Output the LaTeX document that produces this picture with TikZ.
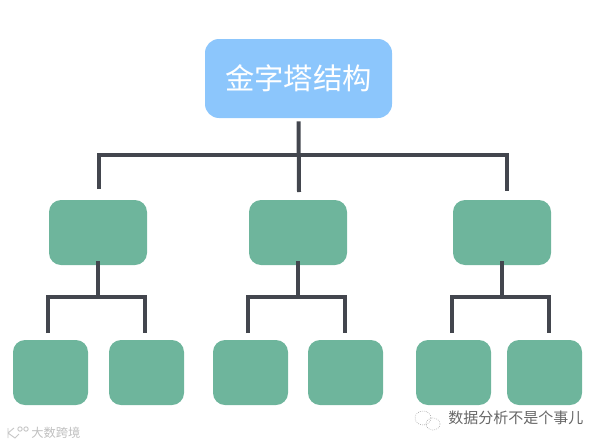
\documentclass[tikz,border=0pt]{standalone}
\usepackage{fontspec}
\newfontfamily\cjk{Noto Sans CJK SC}
\definecolor{topblue}{HTML}{8CC6FC}
\definecolor{boxgreen}{HTML}{6EB59C}
\definecolor{linedark}{HTML}{43464E}
\tikzset{
  x=0.75pt,y=-0.75pt,
  topbox/.style={fill=topblue,draw=none,rounded corners=10.5pt,minimum width=140.25pt,minimum height=59.25pt,inner sep=0pt,text=white,font=\cjk\fontsize{22}{22}\selectfont},
  midbox/.style={fill=boxgreen,draw=none,rounded corners=9pt,minimum width=73.5pt,minimum height=48.75pt,inner sep=0pt},
  leafbox/.style={fill=boxgreen,draw=none,rounded corners=9pt,minimum width=56.25pt,minimum height=48.75pt,inner sep=0pt},
  conn/.style={draw=linedark,line width=3pt,line cap=butt},
  mark1/.style={text=black!25,font=\cjk\fontsize{9.2}{10}\selectfont,inner sep=0pt},
  mark2/.style={text=black!60,font=\cjk\fontsize{11.25}{12}\selectfont,inner sep=0pt},
  icon1/.style={draw=black!22,line width=0.7pt},
  icon2/.style={draw=black!35,line width=0.5pt,densely dotted}
}
\begin{document}
\begin{tikzpicture}
\useasboundingbox (0,0) rectangle (602,446);
\node[topbox] (top) at (298.5,78.5) {金字塔结构};
\node[midbox] (m1) at (98,232.5) {};
\node[midbox] (m2) at (298,232.5) {};
\node[midbox] (m3) at (502,232.5) {};
\node[leafbox] (l1) at (50.5,372.5) {};
\node[leafbox] (l2) at (146.5,372.5) {};
\node[leafbox] (l3) at (250.5,372.5) {};
\node[leafbox] (l4) at (345.5,372.5) {};
\node[leafbox] (l5) at (453.5,372.5) {};
\node[leafbox] (l6) at (544.5,372.5) {};
\draw[conn] ([yshift=-2.25pt]top.south) -- (299,192);
\draw[conn] (98.5,189) -- (98.5,155) -- (507,155) -- (507,191);
\draw[conn] ([yshift=3pt]m1.south) -- (98,297);
\draw[conn] (48,333) -- (48,297) -- (145,297) -- (145,333);
\draw[conn] ([yshift=3pt]m2.south) -- (298,297);
\draw[conn] (248,333) -- (248,297) -- (345,297) -- (345,333);
\draw[conn] ([yshift=3pt]m3.south) -- (502,297);
\draw[conn] (452,333) -- (452,297) -- (549,297) -- (549,333);
\node[mark1,anchor=west] (w1) at (31,433) {大数跨境};
\node[mark2,anchor=west] (w2) at (448,418) {数据分析不是个事儿};
% watermark icons
\draw[icon1] (8,428) -- (8,438) (8,433) -- (14,428) (8,433) -- (15,438) -- (19,434);
\draw[icon1] (20,429) circle[radius=2.2];
\draw[icon1] (26,429) circle[radius=2.2];
\draw[icon2] (423,418) ellipse[x radius=8,y radius=7];
\draw[icon2] (433,424) ellipse[x radius=7,y radius=6];
\end{tikzpicture}
\end{document}
